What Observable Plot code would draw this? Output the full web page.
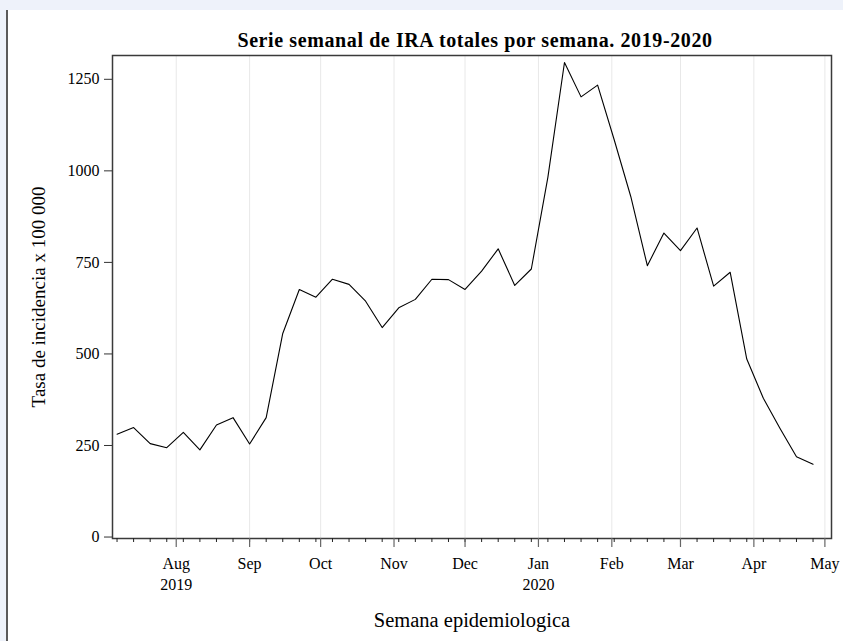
<!DOCTYPE html>
<html>
<head>
<meta charset="utf-8">
<script src="https://cdn.jsdelivr.net/npm/d3@7"></script>
<script src="https://cdn.jsdelivr.net/npm/@observablehq/plot@0.6"></script>
<style>
  html, body { margin: 0; padding: 0; }
  body { width: 843px; height: 641px; overflow: hidden; background: #eef2fa; position: relative; font-family: "Liberation Serif", serif; }
  #panel { position: absolute; left: 6px; top: 10px; right: 0; bottom: 0; background: #fff; border-left: 2px solid #5a5a5a; }
  #chart { position: absolute; left: 0; top: 0; }
</style>
</head>
<body>
<div id="panel"></div>
<div id="chart"></div>
<script>
// Week dates (epidemiological weeks, Sundays)
const weekDates = [
  "2019-07-07","2019-07-14","2019-07-21","2019-07-28",
  "2019-08-04","2019-08-11","2019-08-18","2019-08-25",
  "2019-09-01","2019-09-08","2019-09-15","2019-09-22","2019-09-29",
  "2019-10-06","2019-10-13","2019-10-20","2019-10-27",
  "2019-11-03","2019-11-10","2019-11-17","2019-11-24",
  "2019-12-01","2019-12-08","2019-12-15","2019-12-22","2019-12-29",
  "2020-01-05","2020-01-12","2020-01-19","2020-01-26",
  "2020-02-02","2020-02-09","2020-02-16","2020-02-23",
  "2020-03-01","2020-03-08","2020-03-15","2020-03-22","2020-03-29",
  "2020-04-05","2020-04-12","2020-04-19","2020-04-26"
];
// Incidence rate per 100 000
const rates = [
  281, 299, 255, 244,
  286, 238, 306, 326,
  254, 326, 556, 676, 655,
  704, 690, 644, 572,
  626, 649, 704, 703,
  676, 726, 787, 687, 732,
  983, 1296, 1202, 1234,
  1085, 930, 741, 830,
  782, 844, 685, 723, 486,
  379, 297, 219, 199
];
const monthTickDates = ["2019-08-01","2019-09-01","2019-10-01","2019-11-01","2019-12-01","2020-01-01","2020-02-01","2020-03-01","2020-04-01","2020-05-01"];
const monthTickLabels = ["Aug\n2019","Sep","Oct","Nov","Dec","Jan\n2020","Feb","Mar","Apr","May"];
const yTicks = [0, 250, 500, 750, 1000, 1250];
const minorTickDates = [
  "2019-07-07","2019-07-14","2019-07-21","2019-07-28",
  "2019-08-04","2019-08-11","2019-08-18","2019-08-25",
  "2019-09-01","2019-09-08","2019-09-15","2019-09-22","2019-09-29",
  "2019-10-06","2019-10-13","2019-10-20","2019-10-27",
  "2019-11-03","2019-11-10","2019-11-17","2019-11-24",
  "2019-12-01","2019-12-08","2019-12-15","2019-12-22","2019-12-29",
  "2020-01-05","2020-01-12","2020-01-19","2020-01-26",
  "2020-02-02","2020-02-09","2020-02-16","2020-02-23",
  "2020-03-01","2020-03-08","2020-03-15","2020-03-22","2020-03-29",
  "2020-04-05","2020-04-12","2020-04-19","2020-04-26"
];
const titleText = "Serie semanal de IRA totales por semana. 2019-2020";
const yLabel = "Tasa de incidencia x 100 000";
const xLabel = "Semana epidemiologica";

const parse = d3.utcParse("%Y-%m-%d");
const data = weekDates.map((d, i) => ({date: parse(d), value: rates[i]}));
const months = monthTickDates.map(parse);
const minors = minorTickDates.map(parse);
const labelOf = new Map(months.map((m, i) => [+m, monthTickLabels[i]]));

const chart = Plot.plot({
  width: 843,
  height: 641,
  marginLeft: 112,
  marginRight: 12,
  marginTop: 55,
  marginBottom: 103,
  style: {fontFamily: "Liberation Serif, serif", fontSize: "16px", background: "transparent", color: "#000", overflow: "visible"},
  x: {type: "utc", domain: [new Date(Date.UTC(2019, 6, 5, 2)), new Date(Date.UTC(2020, 4, 3, 19))]},
  y: {domain: [-4, 1315]},
  marks: [
    Plot.ruleX(months, {stroke: "#e8e8e8", strokeWidth: 1}),
    Plot.frame({stroke: "#3a3a3a", strokeWidth: 1.5}),
    Plot.line(data, {x: "date", y: "value", stroke: "#000", strokeWidth: 1.1}),
    Plot.axisY({ticks: yTicks, tickSize: 8, tickPadding: 5, tickFormat: d => String(d), label: null, stroke: "#333", fontSize: 16}),
    Plot.axisX({ticks: minors, tickSize: 4, tickFormat: () => "", label: null, stroke: "#222"}),
    Plot.axisX({ticks: months, tickSize: 9, tickPadding: 7, tickFormat: d => labelOf.get(+d), label: null, stroke: "#666", strokeWidth: 1.2, lineHeight: 1.3, fontSize: 16}),
    Plot.text([titleText], {frameAnchor: "top", dy: -15, dx: 3, fontWeight: "bold", fontSize: 20, lineAnchor: "middle"}),
    Plot.text([yLabel], {frameAnchor: "left", dx: -74, rotate: -90, fontSize: 19, textAnchor: "middle", lineAnchor: "middle"}),
    Plot.text([xLabel], {frameAnchor: "bottom", dy: 82, fontSize: 20.5, textAnchor: "middle", lineAnchor: "middle"})
  ]
});
d3.select(chart).selectAll("text").filter(function() { return this.textContent === titleText; })
  .attr("letter-spacing", "0.6px");
document.getElementById("chart").appendChild(chart);
</script>
</body>
</html>
